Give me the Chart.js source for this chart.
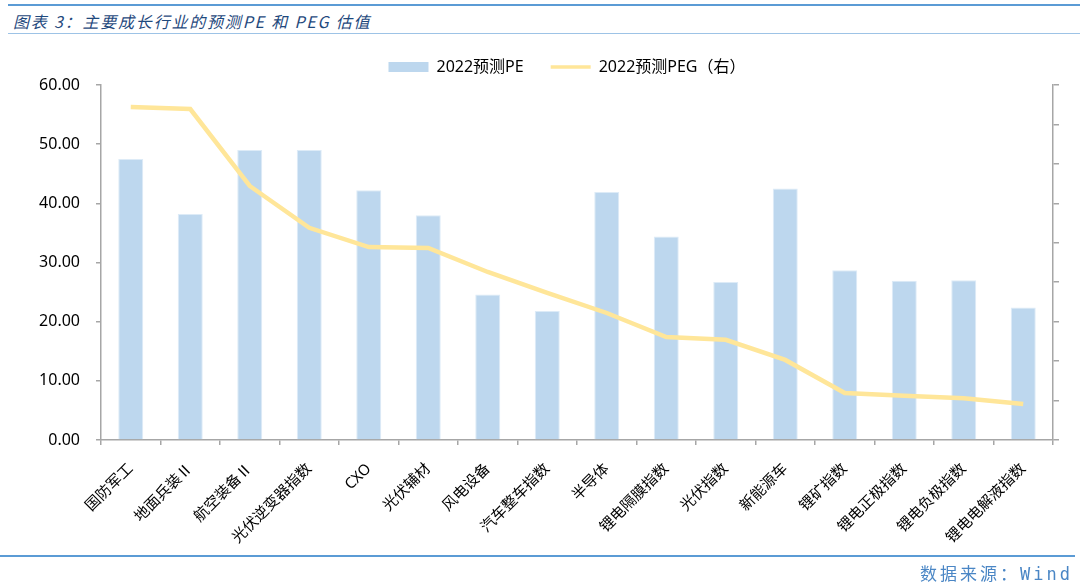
<!DOCTYPE html>
<html><head><meta charset="utf-8">
<script src="https://cdn.jsdelivr.net/npm/chart.js@4.4.0/dist/chart.umd.min.js"></script>
<style>
html,body{margin:0;padding:0;background:#fff;}
#wrap{position:relative;width:1080px;height:586px;overflow:hidden;background:#fff;}
#chartBox{position:absolute;left:0;top:0;width:1080px;height:586px;}
.topline{position:absolute;left:8px;right:0;top:4px;height:2px;background:#5B9BD5;}
.titleline{position:absolute;left:8px;right:0;top:33px;height:1px;background:#9DC3E6;}
.title{position:absolute;left:13px;top:9px;font:italic 16px "Noto Sans CJK SC";color:#1F497D;letter-spacing:1.8px;white-space:pre;}
.bottomline{position:absolute;left:0;right:5px;top:555px;height:2px;background:#5B9BD5;}
.source{position:absolute;right:7px;top:560px;font:17px "DejaVu Sans Mono","Noto Sans CJK SC";color:#4A86C5;letter-spacing:3px;white-space:nowrap;}
</style></head>
<body>
<div id="wrap">
  <div class="topline"></div>
  <div class="title">图表 3：主要成长行业的预测PE 和 PEG 估值</div>
  <div class="titleline"></div>
  <div id="chartBox"><canvas id="c" width="1080" height="586"></canvas></div>
  <div class="bottomline"></div>
  <div class="source">数据来源：Wind</div>
</div>
<script>
const categories = ['国防军工','地面兵装Ⅱ','航空装备Ⅱ','光伏逆变器指数','CXO','光伏辅材','风电设备','汽车整车指数','半导体','锂电隔膜指数','光伏指数','新能源车','锂矿指数','锂电正极指数','锂电负极指数','锂电电解液指数'];
const pe2022 = [47.5, 38.2, 49.0, 49.0, 42.2, 38.0, 24.6, 21.8, 41.9, 34.4, 26.7, 42.5, 28.7, 26.9, 27.0, 22.4];
const peg2022 = [8.44, 8.39, 6.44, 5.38, 4.89, 4.87, 4.26, 3.73, 3.22, 2.61, 2.54, 2.03, 1.19, 1.12, 1.06, 0.91];
const seriesNames = ['2022预测PE', '2022预测PEG（右）'];
const leftMin = 0, leftMax = 60, leftStep = 10;
const rightMin = 0, rightMax = 9, rightStep = 1;

const axisColor = '#A6A6A6';
const fontFam = '"Noto Sans", "Noto Sans CJK SC", sans-serif';

const legendShift = {
  id:'legendShift',
  afterLayout(chart){ if (chart.legend) { chart.legend.left = 54; } }
};

new Chart(document.getElementById('c'), {
  data: {
    labels: categories,
    datasets: [
      {type:'bar', label: seriesNames[0], data: pe2022, yAxisID:'y',
       backgroundColor:'#BDD7EE', borderColor:'#DDEBF7', borderWidth:1,
       barPercentage:0.42, categoryPercentage:1, order:1},
      {type:'line', label: seriesNames[1], data: peg2022, yAxisID:'y1',
       borderColor:'#FFE699', backgroundColor:'#FFE699', borderWidth:4.5,
       pointRadius:0, tension:0, order:0}
    ]
  },
  plugins:[legendShift],
  options: {
    responsive:false, animation:false, devicePixelRatio:1,
    layout:{padding:{top:32,left:0,right:0,bottom:0}},
    plugins:{
      tooltip:{enabled:false},
      legend:{
        position:'top',
        labels:{
          usePointStyle:true, pointStyleWidth:40, boxHeight:10, padding:27,
          font:{family:fontFam, size:16}, color:'#000',
          sort:(a,b)=>a.datasetIndex-b.datasetIndex,
          generateLabels(chart){
            const items = Chart.defaults.plugins.legend.labels.generateLabels(chart);
            items.forEach(it=>{
              if (it.datasetIndex===0){ it.pointStyle='rect'; it.lineWidth=0; it.strokeStyle='#BDD7EE'; }
              else { it.pointStyle='line'; it.lineWidth=3.5; it.strokeStyle='#FFE699'; }
            });
            return items;
          }
        }
      }
    },
    scales:{
      x:{
        offset:true,
        grid:{display:true, drawOnChartArea:false, drawTicks:true, tickLength:5, offset:true, color:axisColor, lineWidth:1.5},
        border:{display:true, color:axisColor, width:1.5},
        ticks:{autoSkip:false, maxRotation:45, minRotation:45, padding:15, font:{family:fontFam, size:15}, color:'#000'},
        afterFit(s){ s.height = 146; }
      },
      y:{
        position:'left', min:leftMin, max:leftMax,
        ticks:{stepSize:leftStep, padding:16, callback:v=>Number(v).toFixed(2), font:{family:fontFam, size:16}, color:'#000'},
        grid:{drawOnChartArea:false, drawTicks:true, tickLength:5, color:axisColor, lineWidth:1.5},
        border:{display:true, color:axisColor, width:1.5},
        afterFit(s){ s.width = 101; }
      },
      y1:{
        position:'right', min:rightMin, max:rightMax,
        ticks:{stepSize:rightStep, display:false},
        grid:{drawOnChartArea:false, drawTicks:true, tickLength:6, color:axisColor, lineWidth:1.5},
        border:{display:true, color:axisColor, width:1.5},
        afterFit(s){ s.width = 27; }
      }
    }
  }
});
</script>
</body></html>
